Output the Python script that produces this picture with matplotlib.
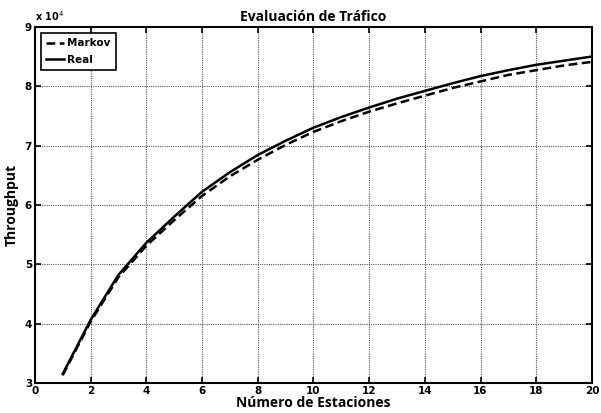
import matplotlib
matplotlib.use('Agg')
import matplotlib.pyplot as plt
from matplotlib.ticker import FuncFormatter

# Throughput values (in units of 1e4)
estaciones = list(range(1, 21))
real = [3.15, 4.06, 4.82, 5.36, 5.80, 6.22, 6.55, 6.84, 7.08, 7.30,
        7.48, 7.64, 7.79, 7.92, 8.05, 8.17, 8.27, 8.36, 8.43, 8.50]
markov = [3.13, 4.03, 4.78, 5.31, 5.74, 6.15, 6.48, 6.76, 7.01, 7.23,
          7.41, 7.57, 7.71, 7.84, 7.97, 8.08, 8.19, 8.27, 8.35, 8.41]
escala = 1e4

fig = plt.figure(figsize=(6.01, 4.13), dpi=100)
ax = fig.add_axes([0.058, 0.073, 0.927, 0.862])

ax.plot(estaciones, [v * escala for v in markov], color='black', lw=1.8,
        dashes=(3.5, 1.8), label='Markov')
ax.plot(estaciones, [v * escala for v in real], 'k-', lw=1.8, label='Real')

ax.set_xlim(0, 20)
ax.set_ylim(3 * escala, 9 * escala)
ax.set_xticks(range(0, 21, 2))
ax.set_yticks([v * escala for v in range(3, 10)])
ax.yaxis.set_major_formatter(FuncFormatter(lambda v, p: f"{v / escala:.0f}"))
ax.tick_params(direction='in', length=4, width=1.2, labelsize=7.5, pad=2,
               top=True, right=True)
for lab in ax.get_xticklabels() + ax.get_yticklabels():
    lab.set_fontweight('bold')
for s in ax.spines.values():
    s.set_linewidth(1.5)

ax.grid(True, color='0.35', linestyle=(0, (1, 1)), linewidth=0.8)

ax.text(0.0, 1.01, r"x 10$^4$", transform=ax.transAxes, fontsize=7,
        fontweight='bold', ha='left', va='bottom')

ax.set_title("Evaluación de Tráfico", fontsize=10, fontweight='bold',
             family='Open Sans', pad=4)
ax.set_xlabel("Número de Estaciones", fontsize=10, fontweight='bold',
              family='Open Sans', labelpad=0)
ax.set_ylabel("Throughput", fontsize=10, fontweight='bold',
              family='Open Sans', labelpad=4)

leg = ax.legend(loc='upper left', fontsize=7.5, handlelength=1.7,
                fancybox=False, edgecolor='black', framealpha=1,
                borderaxespad=0.6, handletextpad=0.3, labelspacing=0.6,
                borderpad=0.5)
leg.get_frame().set_linewidth(1.2)
for t in leg.get_texts():
    t.set_fontweight('bold')

plt.savefig('out.png', dpi=100)
plt.close()
